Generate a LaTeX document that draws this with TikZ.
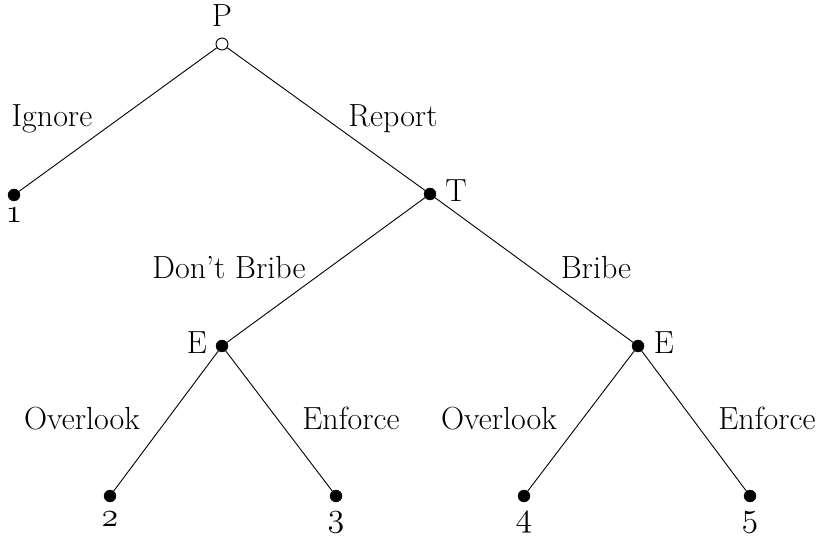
\RequirePackage{fix-cm}
\documentclass[tikz,border=0pt]{standalone}
\newcommand\osnum[1]{{\fontsize{34}{38}\usefont{OML}{cmm}{m}{it}#1}}
\begin{document}
\begin{tikzpicture}[x=1pt,y=1pt,
  every node/.style={font=\fontsize{32}{36}\selectfont},
  dot/.style={circle,fill=black,draw=black,inner sep=0pt,minimum size=12pt},
  odot/.style={circle,fill=white,draw=black,line width=0.9pt,inner sep=0pt,minimum size=12pt},
  edge/.style={line width=0.9pt},
  lbl/.style={anchor=base,inner sep=0pt}]
\useasboundingbox (0,0) rectangle (816,538);
% nodes
\node[odot] (p)  at (222,494) {};
\node[dot]  (l1) at (14,343) {};
\node[dot]  (t)  at (430,344) {};
\node[dot]  (e1) at (222,192) {};
\node[dot]  (e2) at (638,192) {};
\node[dot]  (l2) at (110,42) {};
\node[dot]  (l3) at (336,42) {};
\node[dot]  (l4) at (524,42) {};
\node[dot]  (l5) at (750,42) {};
% edges
\draw[edge] (p) -- (l1);
\draw[edge] (p) -- (t);
\draw[edge] (t) -- (e1);
\draw[edge] (t) -- (e2);
\draw[edge] (e1) -- (l2);
\draw[edge] (e1) -- (l3);
\draw[edge] (e2) -- (l4);
\draw[edge] (e2) -- (l5);
% player labels
\node[lbl] (pl) at (222,511) {P};
\node[lbl] (tl) at (456,336) {T};
\node[lbl] (e1l) at (197,184) {E};
\node[lbl] (e2l) at (664,184) {E};
% payoff labels
\node[lbl] (n1) at (14,315) {\osnum{1}};
\node[lbl] (n2) at (110,12) {\osnum{2}};
\node[lbl] (n3) at (336,12) {\osnum{3}};
\node[lbl] (n4) at (524,12) {\osnum{4}};
\node[lbl] (n5) at (750,12) {\osnum{5}};
% action labels
\node[lbl] (a1) at (52,411) {Ignore};
\node[lbl] (a2) at (393,411) {Report};
\node[lbl] (a3) at (229,259) {Don't Bribe};
\node[lbl] (a4) at (596,259) {Bribe};
\node[lbl] (a5) at (82,108) {Overlook};
\node[lbl] (a6) at (351,108) {Enforce};
\node[lbl] (a7) at (499,108) {Overlook};
\node[lbl] (a8) at (767,108) {Enforce};
\end{tikzpicture}
\end{document}
